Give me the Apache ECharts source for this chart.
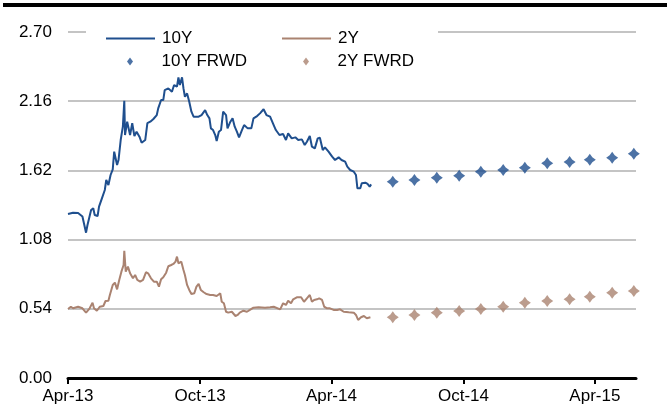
<!DOCTYPE html>
<html>
<head>
<meta charset="utf-8">
<script src="https://cdn.jsdelivr.net/npm/echarts@6/dist/echarts.min.js"></script>
<style>html,body{margin:0;padding:0;background:#fff;}#c{width:667px;height:411px;}</style>
</head>
<body>
<div id="c"></div>
<script>
// ---- data ----
const tenYDates = ['2013-04-01','2013-04-08','2013-04-15','2013-04-21','2013-04-23','2013-04-26','2013-04-28','2013-05-03','2013-05-06','2013-05-08','2013-05-12','2013-05-14','2013-05-18','2013-05-22','2013-05-24','2013-05-27','2013-05-30','2013-06-02','2013-06-04','2013-06-08','2013-06-10','2013-06-13','2013-06-16','2013-06-18','2013-06-19','2013-06-22','2013-06-26','2013-06-29','2013-07-02','2013-07-05','2013-07-09','2013-07-12','2013-07-17','2013-07-20','2013-07-24','2013-07-28','2013-08-02','2013-08-04','2013-08-08','2013-08-11','2013-08-13','2013-08-18','2013-08-23','2013-08-26','2013-08-30','2013-09-01','2013-09-03','2013-09-06','2013-09-08','2013-09-10','2013-09-13','2013-09-16','2013-09-19','2013-09-22','2013-09-29','2013-10-03','2013-10-08','2013-10-11','2013-10-14','2013-10-16','2013-10-19','2013-10-22','2013-10-24','2013-10-27','2013-10-30','2013-11-02','2013-11-06','2013-11-08','2013-11-12','2013-11-15','2013-11-18','2013-11-21','2013-11-24','2013-11-28','2013-12-01','2013-12-06','2013-12-11','2013-12-14','2013-12-19','2013-12-23','2013-12-28','2014-01-01','2014-01-06','2014-01-11','2014-01-14','2014-01-19','2014-01-24','2014-01-28','2014-01-31','2014-02-05','2014-02-10','2014-02-14','2014-02-19','2014-02-23','2014-02-26','2014-03-02','2014-03-05','2014-03-09','2014-03-13','2014-03-16','2014-03-20','2014-03-23','2014-03-28','2014-04-02','2014-04-06','2014-04-11','2014-04-15','2014-04-20','2014-04-23','2014-04-27','2014-05-02','2014-05-05','2014-05-07','2014-05-11','2014-05-13','2014-05-18','2014-05-21','2014-05-24','2014-05-26'];
const tenYValues = [1.28,1.29,1.287,1.26,1.21,1.134,1.194,1.311,1.324,1.272,1.264,1.337,1.402,1.467,1.545,1.506,1.584,1.628,1.766,1.662,1.701,1.857,1.961,2.164,1.896,2.0,1.896,1.988,1.888,1.922,1.883,1.836,1.857,1.988,2.0,2.019,2.052,2.104,2.169,2.169,2.247,2.26,2.234,2.286,2.273,2.346,2.286,2.346,2.26,2.195,2.221,2.156,2.078,2.039,2.039,2.052,2.091,2.052,2.026,1.948,1.935,1.896,1.849,1.922,1.935,2.078,2.052,1.948,2.0,2.026,1.961,1.922,1.878,1.935,1.974,1.948,1.948,2.026,2.044,2.065,2.097,2.052,2.039,1.974,1.935,1.896,1.904,1.857,1.909,1.870,1.878,1.857,1.862,1.818,1.844,1.888,1.805,1.792,1.870,1.875,1.779,1.800,1.766,1.727,1.701,1.722,1.701,1.688,1.649,1.623,1.610,1.584,1.480,1.480,1.519,1.524,1.514,1.493,1.511];

const twoYDates = ['2013-04-01','2013-04-05','2013-04-08','2013-04-15','2013-04-21','2013-04-26','2013-05-01','2013-05-05','2013-05-07','2013-05-11','2013-05-15','2013-05-20','2013-05-23','2013-05-27','2013-05-29','2013-06-02','2013-06-05','2013-06-08','2013-06-11','2013-06-14','2013-06-17','2013-06-18','2013-06-20','2013-06-23','2013-06-26','2013-06-30','2013-07-03','2013-07-06','2013-07-10','2013-07-14','2013-07-18','2013-07-21','2013-07-25','2013-07-29','2013-08-02','2013-08-05','2013-08-08','2013-08-11','2013-08-15','2013-08-18','2013-08-22','2013-08-25','2013-08-28','2013-08-30','2013-09-01','2013-09-05','2013-09-08','2013-09-10','2013-09-13','2013-09-16','2013-09-19','2013-09-23','2013-09-26','2013-09-29','2013-10-02','2013-10-06','2013-10-10','2013-10-15','2013-10-19','2013-10-24','2013-10-29','2013-10-31','2013-11-03','2013-11-06','2013-11-09','2013-11-14','2013-11-19','2013-11-22','2013-11-25','2013-11-30','2013-12-05','2013-12-09','2013-12-14','2013-12-21','2013-12-30','2014-01-06','2014-01-11','2014-01-13','2014-01-20','2014-01-24','2014-01-28','2014-01-31','2014-02-04','2014-02-07','2014-02-12','2014-02-18','2014-02-22','2014-02-26','2014-03-02','2014-03-05','2014-03-08','2014-03-12','2014-03-15','2014-03-19','2014-03-22','2014-03-26','2014-03-30','2014-04-04','2014-04-09','2014-04-13','2014-04-18','2014-04-25','2014-05-02','2014-05-05','2014-05-08','2014-05-12','2014-05-16','2014-05-20','2014-05-25'];
const twoYValues = [0.538,0.556,0.544,0.556,0.544,0.510,0.544,0.588,0.544,0.525,0.556,0.562,0.601,0.603,0.648,0.726,0.744,0.692,0.765,0.830,0.882,0.993,0.830,0.869,0.817,0.778,0.804,0.765,0.752,0.765,0.825,0.817,0.778,0.752,0.752,0.713,0.770,0.786,0.822,0.872,0.882,0.890,0.908,0.947,0.895,0.908,0.843,0.804,0.726,0.687,0.655,0.661,0.713,0.734,0.687,0.669,0.655,0.648,0.648,0.640,0.661,0.595,0.583,0.517,0.510,0.517,0.484,0.492,0.510,0.525,0.517,0.531,0.549,0.552,0.549,0.553,0.556,0.544,0.536,0.583,0.570,0.603,0.583,0.614,0.630,0.630,0.595,0.622,0.648,0.595,0.609,0.614,0.622,0.609,0.556,0.544,0.544,0.531,0.531,0.536,0.517,0.513,0.510,0.492,0.453,0.474,0.484,0.466,0.474];

const fwdDates = ['2014-06-25','2014-07-25','2014-08-25','2014-09-25','2014-10-25','2014-11-25','2014-12-25','2015-01-25','2015-02-25','2015-03-25','2015-04-25','2015-05-25'];
const tenYFwd = [1.532,1.545,1.563,1.579,1.610,1.623,1.641,1.675,1.686,1.703,1.719,1.750];
const twoYFwd = [0.474,0.492,0.510,0.523,0.538,0.556,0.588,0.601,0.614,0.634,0.666,0.679];

const xTickDates = ['2013-04-01','2013-10-01','2014-04-01','2014-10-01','2015-04-01'];
const xTickLabels = ['Apr-13','Oct-13','Apr-14','Oct-14','Apr-15'];
const yTicks = [0.00,0.54,1.08,1.62,2.16,2.70];
const seriesNames = ['10Y','2Y','10Y FRWD','2Y FWRD'];

// ---- helpers ----
function ts(s){const p=s.split('-').map(Number);return Date.UTC(p[0],p[1]-1,p[2]);}
function zip(d,v){return d.map((x,i)=>[ts(x),v[i]]);}

const BLUE='#1F4F8E', BROWN='#AA8371';
const FONT='"Liberation Sans", Arial, sans-serif';
const STAR='path://M0,-10 L4.2,-4.2 L10,0 L4.2,4.2 L0,10 L-4.2,4.2 L-10,0 L-4.2,-4.2 Z';
const LEG_DIAMOND='path://M0,-4 L3,0 L0,4 L-3,0 Z';
const tickTs = xTickDates.map(ts);

const chart = echarts.init(document.getElementById('c'), null, {renderer:'canvas'});
function legend(name,left,top,isSym){
  return {show:true,data:[name],left:left,top:top,itemWidth:49,itemHeight:isSym?8:2,itemGap:0,
    icon:isSym?LEG_DIAMOND:'rect',
    padding:0,textStyle:{fontFamily:FONT,fontSize:17,color:'#000',padding:[0,0,0,2]},
    selectedMode:false,symbolKeepAspect:true};
}
chart.setOption({
  animation:false,
  backgroundColor:'#fff',
  graphic:[
    {type:'rect',shape:{x:3,y:3,width:664,height:4},style:{fill:'#000'},z:10},
    {type:'rect',shape:{x:86,y:22,width:352,height:50},style:{fill:'#fff'},z:3}
  ],
  legend:[
    legend(seriesNames[0],106,30,false),
    legend(seriesNames[1],282,30,false),
    legend(seriesNames[2],127,53,true),
    legend(seriesNames[3],303,53,true)
  ],
  grid:{left:68,right:31,top:32,bottom:33,containLabel:false},
  xAxis:{
    type:'value',
    min:ts('2013-04-01'),max:ts('2015-05-28'),
    axisLine:{show:true,lineStyle:{color:'#000',width:3}},
    axisTick:{show:true,customValues:tickTs,length:6,lineStyle:{color:'#000',width:2}},
    axisLabel:{show:true,customValues:tickTs,margin:10,fontFamily:FONT,fontSize:17,color:'#000',
      formatter:function(v){const i=tickTs.indexOf(v);return i>=0?xTickLabels[i]:'';}},
    splitLine:{show:false}
  },
  yAxis:{
    type:'value',min:yTicks[0],max:yTicks[yTicks.length-1],interval:0.54,
    axisLine:{show:false},axisTick:{show:false},
    axisLabel:{margin:16,fontFamily:FONT,fontSize:17,color:'#000',formatter:v=>v.toFixed(2)},
    splitLine:{show:true,lineStyle:{color:'#C4C4C4',width:2}}
  },
  series:[
    {name:seriesNames[0],type:'line',data:zip(tenYDates,tenYValues),symbol:'none',
      lineStyle:{color:BLUE,width:2},itemStyle:{color:BLUE},z:5},
    {name:seriesNames[1],type:'line',data:zip(twoYDates,twoYValues),symbol:'none',
      lineStyle:{color:BROWN,width:2},itemStyle:{color:BROWN},z:5},
    {name:seriesNames[2],type:'scatter',data:zip(fwdDates,tenYFwd),symbol:STAR,symbolSize:12,
      itemStyle:{color:BLUE},z:5},
    {name:seriesNames[3],type:'scatter',data:zip(fwdDates,twoYFwd),symbol:STAR,symbolSize:12,
      itemStyle:{color:BROWN},z:5}
  ]
});
</script>
</body>
</html>
